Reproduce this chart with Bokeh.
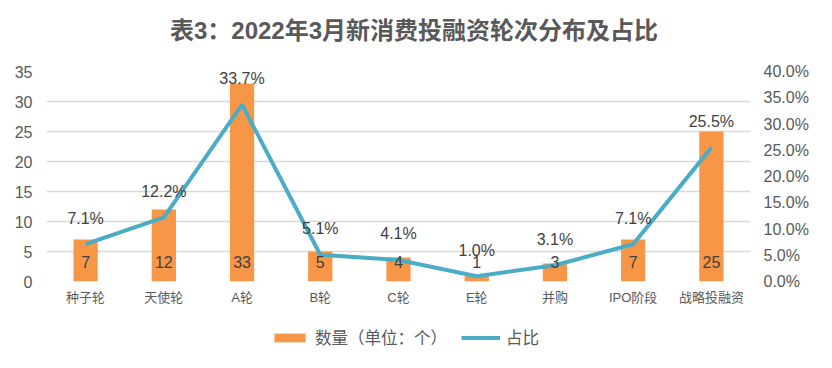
from bokeh.plotting import figure
from bokeh.layouts import column
from bokeh.models import (ColumnDataSource, Range1d, LinearAxis, FixedTicker,
                          NumeralTickFormatter, Legend, LegendItem, Div)
from bokeh.core.properties import value
from bokeh.embed import file_html
from bokeh.resources import INLINE

title_text = "表3：2022年3月新消费投融资轮次分布及占比"
categories = ["种子轮", "天使轮", "A轮", "B轮", "C轮", "E轮", "并购", "IPO阶段", "战略投融资"]
counts = [7, 12, 33, 5, 4, 1, 3, 7, 25]
shares = [7.1, 12.2, 33.7, 5.1, 4.1, 1.0, 3.1, 7.1, 25.5]
left_ticks = [0, 5, 10, 15, 20, 25, 30, 35]
right_ticks = [0.0, 0.05, 0.10, 0.15, 0.20, 0.25, 0.30, 0.35, 0.40]

NUM_FONT = "Liberation Sans, Noto Sans CJK SC"
CJK_FONT = "Noto Sans CJK SC"
BAR_COLOR = "#F79646"
LINE_COLOR = "#4BACC6"

src = ColumnDataSource(dict(
    cat=categories,
    count=counts,
    count_txt=[str(c) for c in counts],
    zero=[0] * len(counts),
    share=[s / 100 for s in shares],
    share_txt=["%.1f%%" % s for s in shares],
))

title = Div(text=title_text, width=816, height=50,
            styles={"font-family": "'Liberation Sans', 'Noto Sans CJK SC', sans-serif",
                    "font-size": "24px", "font-weight": "bold",
                    "color": "#595959", "text-align": "center",
                    "line-height": "24px", "padding-top": "19px",
                    "padding-left": "12px", "box-sizing": "border-box",
                    "width": "816px", "margin": "0"})

p = figure(x_range=categories, y_range=Range1d(0, 35), width=816, height=260,
           output_backend="svg", toolbar_location=None,
           min_border_left=46, min_border_right=66, min_border_top=21,
           min_border_bottom=29)
p.extra_y_ranges = {"pct": Range1d(0, 0.40)}

p.outline_line_color = None
p.xgrid.grid_line_color = None
p.ygrid.grid_line_color = "#d9d9d9"
p.ygrid.grid_line_width = 1.5
p.ygrid.ticker = FixedTicker(ticks=left_ticks)

p.vbar(x="cat", top="count", width=0.31, source=src,
       fill_color=BAR_COLOR, line_color=None)
p.line(x="cat", y="share", source=src, y_range_name="pct",
       line_color=LINE_COLOR, line_width=4)

p.text(x="cat", y="zero", text="count_txt", source=src, y_offset=-20,
       text_align="center", text_baseline="middle", text_font=value(NUM_FONT),
       text_font_size="16px", text_color="#404040")
p.text(x="cat", y="share", text="share_txt", source=src, y_range_name="pct",
       y_offset=-26, text_align="center", text_baseline="middle",
       text_font=value(NUM_FONT), text_font_size="16px", text_color="#404040")

ax = p.yaxis[0]
ax.ticker = FixedTicker(ticks=left_ticks)
ax.axis_line_color = None
ax.major_tick_line_color = None
ax.minor_tick_line_color = None
ax.major_tick_out = 0
ax.major_label_standoff = 14
ax.major_label_text_font = NUM_FONT
ax.major_label_text_font_size = "16px"
ax.major_label_text_color = "#595959"

rax = LinearAxis(y_range_name="pct", ticker=FixedTicker(ticks=right_ticks),
                 formatter=NumeralTickFormatter(format="0.0%"))
rax.axis_line_color = None
rax.major_tick_line_color = None
rax.minor_tick_line_color = None
rax.major_tick_out = 0
rax.major_label_standoff = 13
rax.major_label_text_font = NUM_FONT
rax.major_label_text_font_size = "16px"
rax.major_label_text_color = "#595959"
p.add_layout(rax, "right")

xa = p.xaxis[0]
xa.axis_line_color = None
xa.major_tick_line_color = None
xa.major_tick_out = 0
xa.major_label_standoff = 8
xa.major_label_text_font = NUM_FONT
xa.major_label_text_font_size = "13px"
xa.major_label_text_color = "#595959"

# legend strip below the chart; its renderers use the same data but lie
# outside this strip's visible range, so only the legend shows
lf = figure(width=816, height=54, output_backend="svg", toolbar_location=None,
            x_range=categories, y_range=Range1d(100, 101), min_border=0)
lf.axis.visible = False
lf.grid.grid_line_color = None
lf.outline_line_color = None
lb = lf.vbar(x="cat", top="count", width=0.31, source=src,
             fill_color=BAR_COLOR, line_color=None)
ll = lf.line(x="cat", y="share", source=src,
             line_color=LINE_COLOR, line_width=4)
legend = Legend(items=[LegendItem(label="数量（单位：个）", renderers=[lb]),
                       LegendItem(label="占比", renderers=[ll])],
                orientation="horizontal", location=(224, 15),
                glyph_width=39, glyph_height=11, spacing=14, label_standoff=6,
                label_text_font=CJK_FONT, label_text_font_size="16.5px",
                label_text_color="#595959", border_line_color=None,
                background_fill_alpha=0, padding=2, margin=0)
lf.add_layout(legend, "center")

open("out.html", "w").write(file_html(column(title, p, lf), INLINE))
